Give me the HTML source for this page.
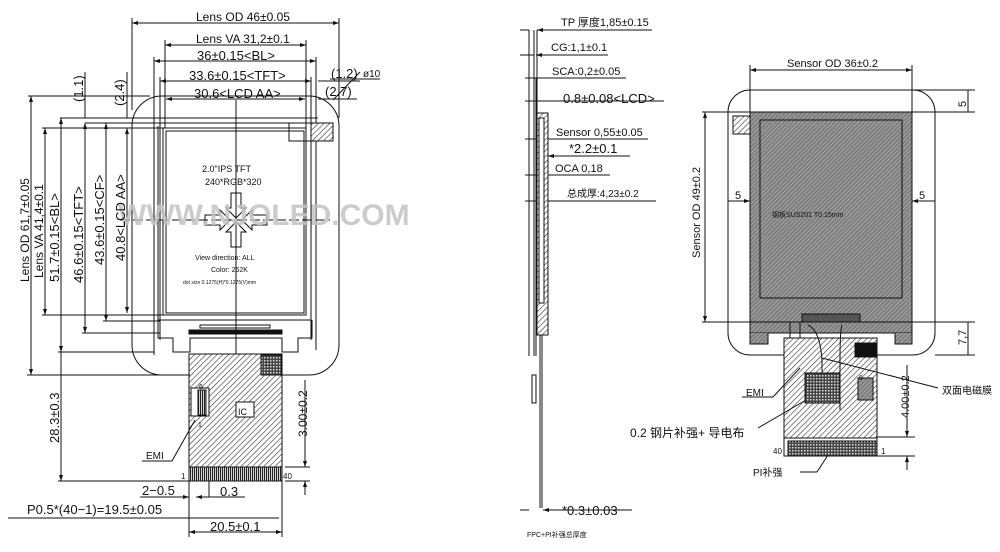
<!DOCTYPE html>
<html><head><meta charset="utf-8"><style>
html,body{margin:0;padding:0;background:#fff}
svg{display:block}
text{font-family:"Liberation Sans","Noto Sans CJK SC",sans-serif;fill:#111}
</style></head><body>
<svg width="1000" height="552" viewBox="0 0 1000 552" xmlns="http://www.w3.org/2000/svg">
<defs>
<pattern id="h" width="4" height="4" patternUnits="userSpaceOnUse" patternTransform="rotate(45)">
<rect width="4" height="4" fill="#fff"/><line x1="0" y1="0" x2="0" y2="4" stroke="#333" stroke-width="1.2"/></pattern>
<pattern id="g" width="3" height="3" patternUnits="userSpaceOnUse" patternTransform="rotate(45)">
<rect width="3" height="3" fill="#808080"/><line x1="0" y1="0" x2="0" y2="3" stroke="#d0d0d0" stroke-width="0.8"/></pattern>
<pattern id="c" width="2" height="4" patternUnits="userSpaceOnUse">
<rect width="2" height="4" fill="#fff"/><rect width="1.2" height="4" fill="#222"/></pattern>
<pattern id="m" width="3" height="3" patternUnits="userSpaceOnUse">
<rect width="3" height="3" fill="#444"/><rect width="1.5" height="1.5" fill="#ddd"/></pattern>
<marker id="a" markerWidth="6" markerHeight="6" refX="6" refY="3" orient="auto-start-reverse"><path d="M0,1 L6,3 L0,5" fill="#111"/></marker>
</defs>
<g stroke="#111" stroke-width="1" fill="none">
<!-- LEFT VIEW -->
<rect x="132" y="96" width="207" height="279" rx="30"/>
<line x1="132" y1="23" x2="339" y2="23" marker-start="url(#a)" marker-end="url(#a)"/>
<line x1="132" y1="18" x2="132" y2="110"/><line x1="339" y1="18" x2="339" y2="118"/>
<line x1="165" y1="45" x2="306" y2="45" marker-start="url(#a)" marker-end="url(#a)"/>
<line x1="165" y1="40" x2="165" y2="128"/><line x1="306" y1="40" x2="306" y2="128"/>
<line x1="154" y1="61" x2="316" y2="61" marker-start="url(#a)" marker-end="url(#a)"/>
<line x1="154" y1="57" x2="154" y2="355"/><line x1="316" y1="57" x2="316" y2="350"/>
<line x1="160" y1="81" x2="311" y2="81" marker-start="url(#a)" marker-end="url(#a)"/>
<line x1="160" y1="77" x2="160" y2="340"/><line x1="311" y1="77" x2="311" y2="340"/>
<line x1="166" y1="99" x2="305" y2="99" marker-start="url(#a)" marker-end="url(#a)"/>
<line x1="318" y1="81" x2="360" y2="81"/><line x1="318" y1="99" x2="357" y2="99"/>
<line x1="330" y1="79" x2="380" y2="79"/>
<line x1="333" y1="100" x2="360" y2="72"/>
<line x1="60" y1="118" x2="318" y2="118"/>
<line x1="85" y1="123" x2="311" y2="123"/>
<line x1="42" y1="128" x2="306" y2="128"/>
<line x1="28" y1="96" x2="150" y2="96"/>
<rect x="163" y="128" width="143" height="187"/>
<rect x="166" y="131" width="138" height="182"/>
<path d="M158 126 V320 H311 V126"/>
<path d="M158 320 V338 H173 V352 H190 V338 H282 V352 H298 V338 H312 V320"/>
<rect x="189" y="330" width="93" height="4" fill="#111"/>
<rect x="200" y="325" width="70" height="3"/>
<rect x="289" y="123" width="22" height="18"/>
<rect x="311" y="123" width="22" height="18" fill="url(#h)"/>
<line x1="236" y1="100" x2="236" y2="355"/>
<line x1="120" y1="220" x2="330" y2="220" stroke-dasharray="10,3"/>
<path d="M231 193 H241 V208 H246 L236 218 L226 208 H231 Z"/>
<path d="M231 247 H241 V232 H246 L236 222 L226 232 H231 Z"/>
<path d="M205 215 V225 H220 V230 L230 220 L220 210 V215 Z"/>
<path d="M267 215 V225 H252 V230 L242 220 L252 210 V215 Z"/>
<rect x="189" y="354" width="93" height="113" fill="url(#h)"/>
<rect x="261" y="355" width="20" height="20" fill="url(#m)"/>
<rect x="191" y="388" width="18" height="28" fill="#fff"/>
<rect x="198" y="390" width="8" height="25" fill="url(#c)"/>
<rect x="236" y="402" width="18" height="15" fill="#fff"/>
<rect x="189" y="467" width="93" height="14" fill="url(#c)"/>
<line x1="142" y1="461" x2="172" y2="461"/><line x1="172" y1="461" x2="195" y2="420"/>
<line x1="31" y1="96" x2="31" y2="375" marker-start="url(#a)" marker-end="url(#a)"/>
<line x1="27" y1="375" x2="190" y2="375"/>
<line x1="45" y1="128" x2="45" y2="315" marker-start="url(#a)" marker-end="url(#a)"/>
<line x1="42" y1="315" x2="165" y2="315"/>
<line x1="61" y1="118" x2="61" y2="352" marker-start="url(#a)" marker-end="url(#a)"/>
<line x1="58" y1="352" x2="154" y2="352"/>
<line x1="85" y1="123" x2="85" y2="333" marker-start="url(#a)" marker-end="url(#a)"/>
<line x1="82" y1="333" x2="160" y2="333"/>
<line x1="106" y1="123" x2="106" y2="321" marker-start="url(#a)" marker-end="url(#a)"/>
<line x1="103" y1="321" x2="160" y2="321"/>
<line x1="127" y1="128" x2="127" y2="313" marker-start="url(#a)" marker-end="url(#a)"/>
<line x1="85" y1="72" x2="85" y2="118"/><line x1="127" y1="72" x2="127" y2="118"/>
<line x1="61" y1="352" x2="61" y2="481" marker-end="url(#a)"/>
<line x1="58" y1="481" x2="189" y2="481"/>
<line x1="305" y1="380" x2="305" y2="467" marker-end="url(#a)"/>
<line x1="285" y1="467" x2="310" y2="467"/><line x1="285" y1="481" x2="310" y2="481"/>
<line x1="305" y1="481" x2="305" y2="495" marker-start="url(#a)"/>
<line x1="189" y1="481" x2="189" y2="537"/><line x1="282" y1="481" x2="282" y2="537"/>
<line x1="189" y1="532" x2="282" y2="532" marker-start="url(#a)" marker-end="url(#a)"/>
<line x1="8" y1="518" x2="279" y2="518"/>
<line x1="140" y1="497" x2="189" y2="497" marker-end="url(#a)"/>
<line x1="209" y1="481" x2="209" y2="497"/>
<line x1="196" y1="497" x2="209" y2="497" marker-start="url(#a)"/>
<line x1="209" y1="497" x2="245" y2="497"/>
<!-- SIDE VIEW -->
<line x1="520" y1="30" x2="529" y2="30"/><line x1="537" y1="30" x2="652" y2="30" marker-start="url(#a)"/>
<line x1="520" y1="55" x2="534" y2="55"/><line x1="536" y1="55" x2="608" y2="55" marker-start="url(#a)"/>
<line x1="525" y1="78" x2="626" y2="78"/>
<line x1="525" y1="101" x2="664" y2="101"/>
<line x1="525" y1="139" x2="648" y2="139"/>
<line x1="548" y1="156" x2="630" y2="156" marker-start="url(#a)"/>
<line x1="525" y1="175" x2="610" y2="175"/>
<line x1="525" y1="201" x2="656" y2="201"/>
<line x1="529" y1="30" x2="529" y2="356"/>
<line x1="534" y1="30" x2="534" y2="356"/>
<line x1="537" y1="30" x2="537" y2="325"/>
<line x1="536" y1="78" x2="536" y2="356"/>
<rect x="537" y="113" width="11" height="222" fill="url(#h)"/>
<rect x="539" y="118" width="5" height="185" fill="#fff"/>
<line x1="540" y1="335" x2="540" y2="508"/><line x1="542" y1="335" x2="542" y2="508"/>
<rect x="532" y="375" width="4" height="28"/>
<line x1="520" y1="510" x2="529" y2="510"/><line x1="543" y1="510" x2="632" y2="510" marker-start="url(#a)"/>
<!-- RIGHT VIEW -->
<rect x="728" y="90" width="207" height="265" rx="22"/>
<rect x="750" y="112" width="162" height="221" fill="url(#g)"/>
<path d="M750 333 V344 H768 V333 M895 333 V344 H912 V333" fill="url(#g)"/>
<rect x="760" y="120" width="142" height="178" fill="url(#g)"/>
<rect x="733" y="116" width="17" height="18" fill="url(#h)"/>
<rect x="802" y="314" width="58" height="8" fill="#555"/>
<line x1="750" y1="70" x2="912" y2="70" marker-start="url(#a)" marker-end="url(#a)"/>
<line x1="750" y1="65" x2="750" y2="112"/><line x1="912" y1="65" x2="912" y2="112"/>
<line x1="912" y1="90" x2="975" y2="90"/><line x1="912" y1="112" x2="975" y2="112"/>
<line x1="968" y1="90" x2="968" y2="112"/>
<line x1="702" y1="112" x2="750" y2="112"/>
<line x1="702" y1="322" x2="975" y2="322"/>
<line x1="705" y1="112" x2="705" y2="322" marker-start="url(#a)" marker-end="url(#a)"/>
<line x1="728" y1="201" x2="750" y2="201" marker-end="url(#a)"/>
<line x1="912" y1="201" x2="935" y2="201" marker-start="url(#a)"/>
<line x1="935" y1="355" x2="975" y2="355"/>
<line x1="968" y1="322" x2="968" y2="355"/>
<rect x="784" y="338" width="93" height="100" fill="url(#h)"/>
<path d="M790 322 V338 M800 322 V338 M808 325 Q820 330 822 360 V375 M842 325 Q840 330 840 360 V410" />
<rect x="855" y="343" width="22" height="14" fill="#111"/>
<rect x="805" y="373" width="35" height="30" fill="url(#m)"/>
<rect x="858" y="378" width="15" height="22" fill="url(#g)"/>
<rect x="784" y="438" width="93" height="18" fill="#fff"/>
<rect x="788" y="441" width="89" height="15" fill="url(#m)"/>
<line x1="877" y1="437" x2="915" y2="437"/><line x1="877" y1="456" x2="915" y2="456"/>
<line x1="907" y1="365" x2="907" y2="437" marker-end="url(#a)"/>
<line x1="907" y1="456" x2="907" y2="470" marker-start="url(#a)"/>
<line x1="742" y1="397" x2="773" y2="397"/><line x1="773" y1="397" x2="800" y2="368"/>
<line x1="758" y1="428" x2="806" y2="400"/>
<line x1="822" y1="358" x2="938" y2="388"/>
<line x1="800" y1="472" x2="817" y2="472"/><line x1="817" y1="472" x2="828" y2="455"/>
</g>
<text x="118" y="225" font-size="30" font-weight="bold" style="fill:#c4c4c4" opacity="0.85">WWW.NJOLED.COM</text>
<g font-size="12">
<text x="196" y="21">Lens OD 46±0.05</text>
<text x="196" y="43">Lens VA 31,2±0.1</text>
<text x="197" y="60" font-size="13">36±0.15&lt;BL&gt;</text>
<text x="189" y="80" font-size="13">33.6±0.15&lt;TFT&gt;</text>
<text x="194" y="98" font-size="13">30.6&lt;LCD AA&gt;</text>
<text x="331" y="78" font-size="13">(1.2)</text><text x="363" y="77" font-size="10">ø10</text>
<text x="325" y="96" font-size="13">(2.7)</text>
<text transform="translate(83,102) rotate(-90)" font-size="13">(1.1)</text>
<text transform="translate(124,106) rotate(-90)" font-size="13">(2.4)</text>
<text transform="translate(29,282) rotate(-90)">Lens OD 61,7±0.05</text>
<text transform="translate(43,278) rotate(-90)">Lens VA 41,4±0.1</text>
<text transform="translate(59,282) rotate(-90)" font-size="13">51.7±0.15&lt;BL&gt;</text>
<text transform="translate(83,283) rotate(-90)" font-size="13">46.6±0.15&lt;TFT&gt;</text>
<text transform="translate(104,265) rotate(-90)" font-size="13">43.6±0.15&lt;CF&gt;</text>
<text transform="translate(125,261) rotate(-90)" font-size="13">40.8&lt;LCD AA&gt;</text>
<text transform="translate(59,443) rotate(-90)" font-size="13">28.3±0.3</text>
<text transform="translate(307,437) rotate(-90)" font-size="12">3.00±0.2</text>
<text x="202" y="172" font-size="9">2.0"IPS TFT</text>
<text x="205" y="185" font-size="9">240*RGB*320</text>
<text x="195" y="260" font-size="7">View direction: ALL</text>
<text x="211" y="272" font-size="7">Color: 262K</text>
<text x="183" y="284" font-size="5">dot size 0.1275(H)*0.1275(V)mm</text>
<text x="238" y="415" font-size="9">IC</text>
<text x="199" y="389" font-size="7">6</text><text x="198" y="427" font-size="7">1</text>
<text x="146" y="459" font-size="10">EMI</text>
<text x="181" y="479" font-size="8">1</text><text x="283" y="479" font-size="8">40</text>
<text x="142" y="495" font-size="13">2−0.5</text>
<text x="220" y="496" font-size="13">0.3</text>
<text x="27" y="514" font-size="13">P0.5*(40−1)=19.5±0.05</text>
<text x="210" y="531" font-size="13">20.5±0.1</text>
</g>
<g font-size="11">
<text x="561" y="26">TP 厚度1,85±0.15</text>
<text x="551" y="51">CG:1,1±0.1</text>
<text x="552" y="75">SCA:0,2±0.05</text>
<text x="563" y="103" font-size="13">0.8±0.08&lt;LCD&gt;</text>
<text x="556" y="136">Sensor 0,55±0.05</text>
<text x="569" y="153" font-size="13">*2.2±0.1</text>
<text x="555" y="172">OCA  0,18</text>
<text x="567" y="197" font-size="10">总成厚:4,23±0.2</text>
<text x="562" y="515" font-size="13">*0.3±0.03</text>
<text x="527" y="537" font-size="7">FPC+PI补强总厚度</text>
</g>
<g font-size="11">
<text x="787" y="67">Sensor OD 36±0.2</text>
<text transform="translate(966,107) rotate(-90)">5</text>
<text x="735" y="199">5</text><text x="919" y="199">5</text>
<text transform="translate(700,258) rotate(-90)">Sensor OD 49±0.2</text>
<text x="772" y="217" font-size="7">钢板SUS201 T0.15mm</text>
<text transform="translate(966,345) rotate(-90)">7,7</text>
<text transform="translate(909,418) rotate(-90)">4.00±0.2</text>
<text x="942" y="394" font-size="10">双面电磁膜</text>
<text x="746" y="396" font-size="10">EMI</text>
<text x="630" y="437" font-size="12">0.2 钢片补强+ 导电布</text>
<text x="773" y="454" font-size="8">40</text><text x="881" y="454" font-size="8">1</text>
<text x="753" y="476" font-size="10">PI补强</text>
<text x="859" y="380" font-size="7">6</text>
</g>
</svg>
</body></html>
